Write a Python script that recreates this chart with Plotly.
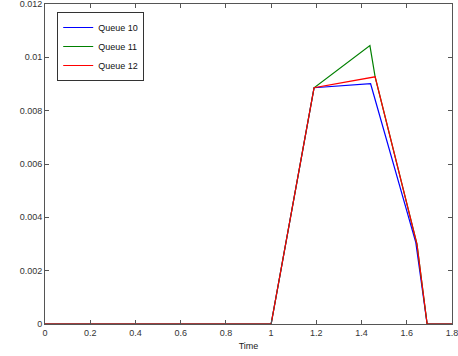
import plotly.graph_objects as go

q10_t = [0, 1.0, 1.19, 1.44, 1.64, 1.69, 1.8]
q10_v = [0, 0, 0.00886, 0.00901, 0.00305, 0, 0]
q11_t = [0, 1.0, 1.19, 1.437, 1.46, 1.645, 1.69, 1.8]
q11_v = [0, 0, 0.00886, 0.01044, 0.00927, 0.0030, 0, 0]
q12_t = [0, 1.0, 1.19, 1.46, 1.645, 1.69, 1.8]
q12_v = [0, 0, 0.00886, 0.00927, 0.0030, 0, 0]

x_ticks = [0, 0.2, 0.4, 0.6, 0.8, 1, 1.2, 1.4, 1.6, 1.8]
x_labels = ["0", "0.2", "0.4", "0.6", "0.8", "1", "1.2", "1.4", "1.6", "1.8"]
y_ticks = [0, 0.002, 0.004, 0.006, 0.008, 0.01, 0.012]
y_labels = ["0", "0.002", "0.004", "0.006", "0.008", "0.01", "0.012"]

font_fam = "Liberation Sans, Arial"

fig = go.Figure()
fig.add_trace(go.Scatter(x=q10_t, y=q10_v, mode="lines", name="Queue 10",
                         line=dict(color="#0000ff", width=1.2)))
fig.add_trace(go.Scatter(x=q11_t, y=q11_v, mode="lines", name="Queue 11",
                         line=dict(color="#008000", width=1.2)))
fig.add_trace(go.Scatter(x=q12_t, y=q12_v, mode="lines", name="Queue 12",
                         line=dict(color="#ff0000", width=1.2)))

axis_common = dict(showgrid=False, zeroline=False, showline=True, linecolor="#555555",
                   linewidth=1, mirror="ticks", ticks="inside", ticklen=4,
                   tickcolor="#555555", automargin=False, ticklabeloverflow="allow",
                   tickfont=dict(family=font_fam, size=9, color="#333333"))

fig.update_xaxes(range=[0, 1.8], tickvals=x_ticks, ticktext=x_labels,
                 title=dict(text="Time", font=dict(family=font_fam, size=9, color="#222222"), standoff=5),
                 **axis_common)
fig.update_yaxes(range=[0, 0.012], tickvals=y_ticks, ticktext=y_labels, **axis_common)

fig.update_layout(
    width=458, height=356,
    margin=dict(l=45, r=6, t=4, b=32),
    paper_bgcolor="white", plot_bgcolor="white",
    legend=dict(x=0.03, y=0.975, xanchor="left", yanchor="top",
                bgcolor="white", bordercolor="#333333", borderwidth=1,
                font=dict(family=font_fam, size=9, color="#111111"),
                tracegroupgap=0, itemwidth=30),
    showlegend=True,
)

fig.write_html("out.html", config={"displayModeBar": False},
               post_script="document.body.style.margin='0';document.body.style.overflow='hidden';")
